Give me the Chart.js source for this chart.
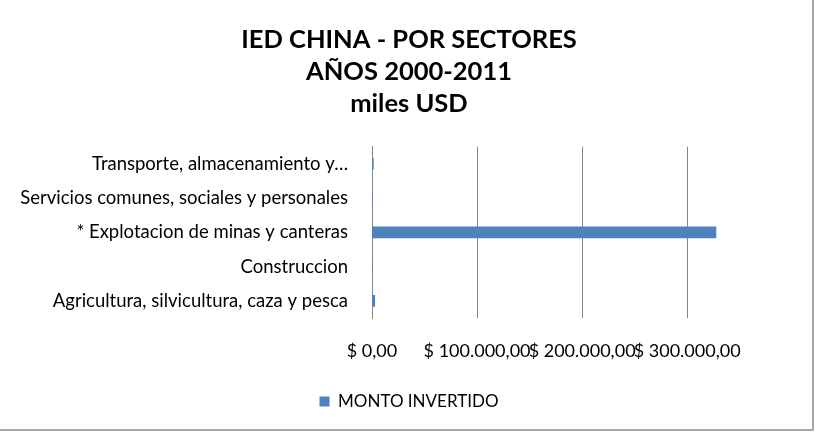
<!DOCTYPE html>
<html>
<head>
<meta charset="utf-8">
<script src="https://cdn.jsdelivr.net/npm/chart.js@4/dist/chart.umd.min.js"></script>
<style>
  html, body { margin: 0; padding: 0; background: #fff; }
  #frame {
    position: absolute; left: 0; top: 0;
    width: 812px; height: 429px;
    border-right: 2px solid #a6a6a6;
    border-bottom: 2px solid #a6a6a6;
  }
  #wrap { position: absolute; left: 0; top: 0; width: 818px; height: 436px; }
</style>
</head>
<body>
<div id="frame"></div>
<div id="wrap"><canvas id="chart" width="818" height="436"></canvas></div>
<script>
// ---------------------------
// data
// ---------------------------
const sectors = [
    'Transporte, almacenamiento y…',
    'Servicios comunes, sociales y personales',
    '* Explotacion de minas y canteras',
    'Construccion',
    'Agricultura, silvicultura, caza y pesca'
];
const montoInvertido = [1300, 150, 327400, 400, 2600];
const tickValues = [0, 100000, 200000, 300000];
const titleLines = ['IED CHINA - POR SECTORES', 'AÑOS 2000-2011', 'miles USD'];

const FONT = 'Lato, "Open Sans", sans-serif';

// $ 100.000,00 style
function money(v) {
    const whole = Math.round(v).toString().replace(/\B(?=(\d{3})+(?!\d))/g, '.');
    return '$ ' + whole + ',00';
}

const ctx = document.getElementById('chart').getContext('2d');

const chart = new Chart(ctx, {
    type: 'bar',
    data: {
        labels: sectors,
        datasets: [{
            label: 'MONTO INVERTIDO',
            data: montoInvertido,
            backgroundColor: '#4f81bd',
            borderWidth: 0,
            barThickness: 11
        }]
    },
    options: {
        indexAxis: 'y',
        responsive: false,
        animation: false,
        layout: { padding: { left: 10, right: 10, top: 16, bottom: 16 } },
        scales: {
            x: {
                min: 0,
                max: 415000,   // leaves empty room right of the last gridline
                afterBuildTicks: (scale) => {
                    scale.ticks = tickValues.map(v => ({ value: v }));
                },
                afterFit: (scale) => { scale.height = 63; },
                grid: { color: '#868686', lineWidth: 1, drawTicks: false },
                border: { display: false },
                ticks: {
                    autoSkip: false,
                    maxRotation: 0,
                    padding: 22,
                    color: '#000',
                    font: { family: FONT, size: 18 },
                    callback: (v) => money(v)
                }
            },
            y: {
                grid: { display: false, drawTicks: false },
                border: { display: true, color: '#868686', width: 1 },
                afterFit: (scale) => { scale.width = 362; },
                ticks: {
                    padding: 24,
                    color: '#000',
                    font: { family: FONT, size: 18.5 }
                }
            }
        },
        plugins: {
            title: {
                display: true,
                text: titleLines,
                color: '#000',
                font: { family: FONT, size: 25.5, weight: 'bold', lineHeight: 1.25 },
                padding: { top: 8, bottom: 27 }
            },
            legend: {
                position: 'bottom',
                labels: {
                    boxWidth: 10,
                    boxHeight: 10,
                    color: '#000',
                    font: { family: FONT, size: 17 },
                    padding: 12
                }
            },
            tooltip: { enabled: false }
        }
    }
});
</script>
</body>
</html>
